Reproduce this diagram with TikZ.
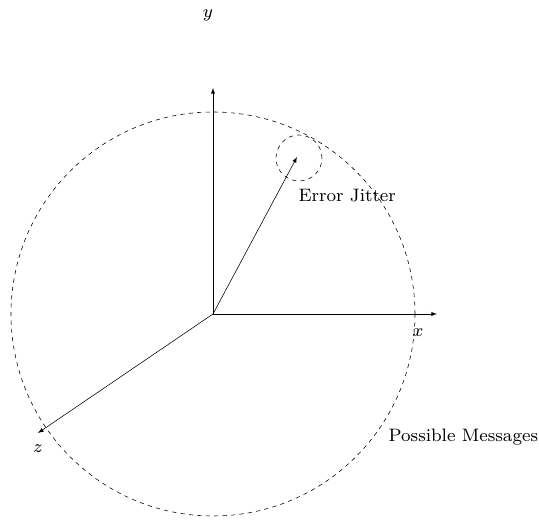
\documentclass[tikz,border=0pt]{standalone}
\usepackage{tikz}
\usetikzlibrary{arrows,positioning,calc}

\newcommand{\bigtxt}[1]{\scalebox{1.6}{\footnotesize #1}}

\begin{document}
\begin{tikzpicture}[
    axis/.style={->, >=latex, thin},
    ring/.style={draw, dashed, thin},
    lbl/.style={inner sep=1pt}
]
\useasboundingbox (-5.325,-5.15) rectangle (8.15,7.85);

% Axes from the origin
\coordinate (o) at (0,0);
\coordinate (xt) at (5.6,0);
\coordinate (yt) at (0,5.65);
\coordinate (zt) at (-4.375,-2.975);
\draw[axis] (o) -- (xt);
\draw[axis] (o) -- (yt);
\draw[axis] (o) -- (zt);

% Message vector and its jitter
\coordinate (m) at (2.1,3.925);
\draw[axis] (o) -- (m);
\draw[ring] (2.15,3.9) circle (0.575);

% Sphere of possible messages
\draw[ring] (o) circle (5.05);

% Labels
\node[lbl] (xl) at (5.125,-0.475) {\bigtxt{$x$}};
\node[lbl] (yl) at (-0.125,7.475) {\bigtxt{$y$}};
\node[lbl] (zl) at (-4.375,-3.375) {\bigtxt{$z$}};
\node[lbl, anchor=west] (jit) at (2.1,2.95) {\bigtxt{Error Jitter}};
\node[lbl, anchor=west] (pos) at (4.35,-3.075) {\bigtxt{Possible Messages}};

\end{tikzpicture}
\end{document}
